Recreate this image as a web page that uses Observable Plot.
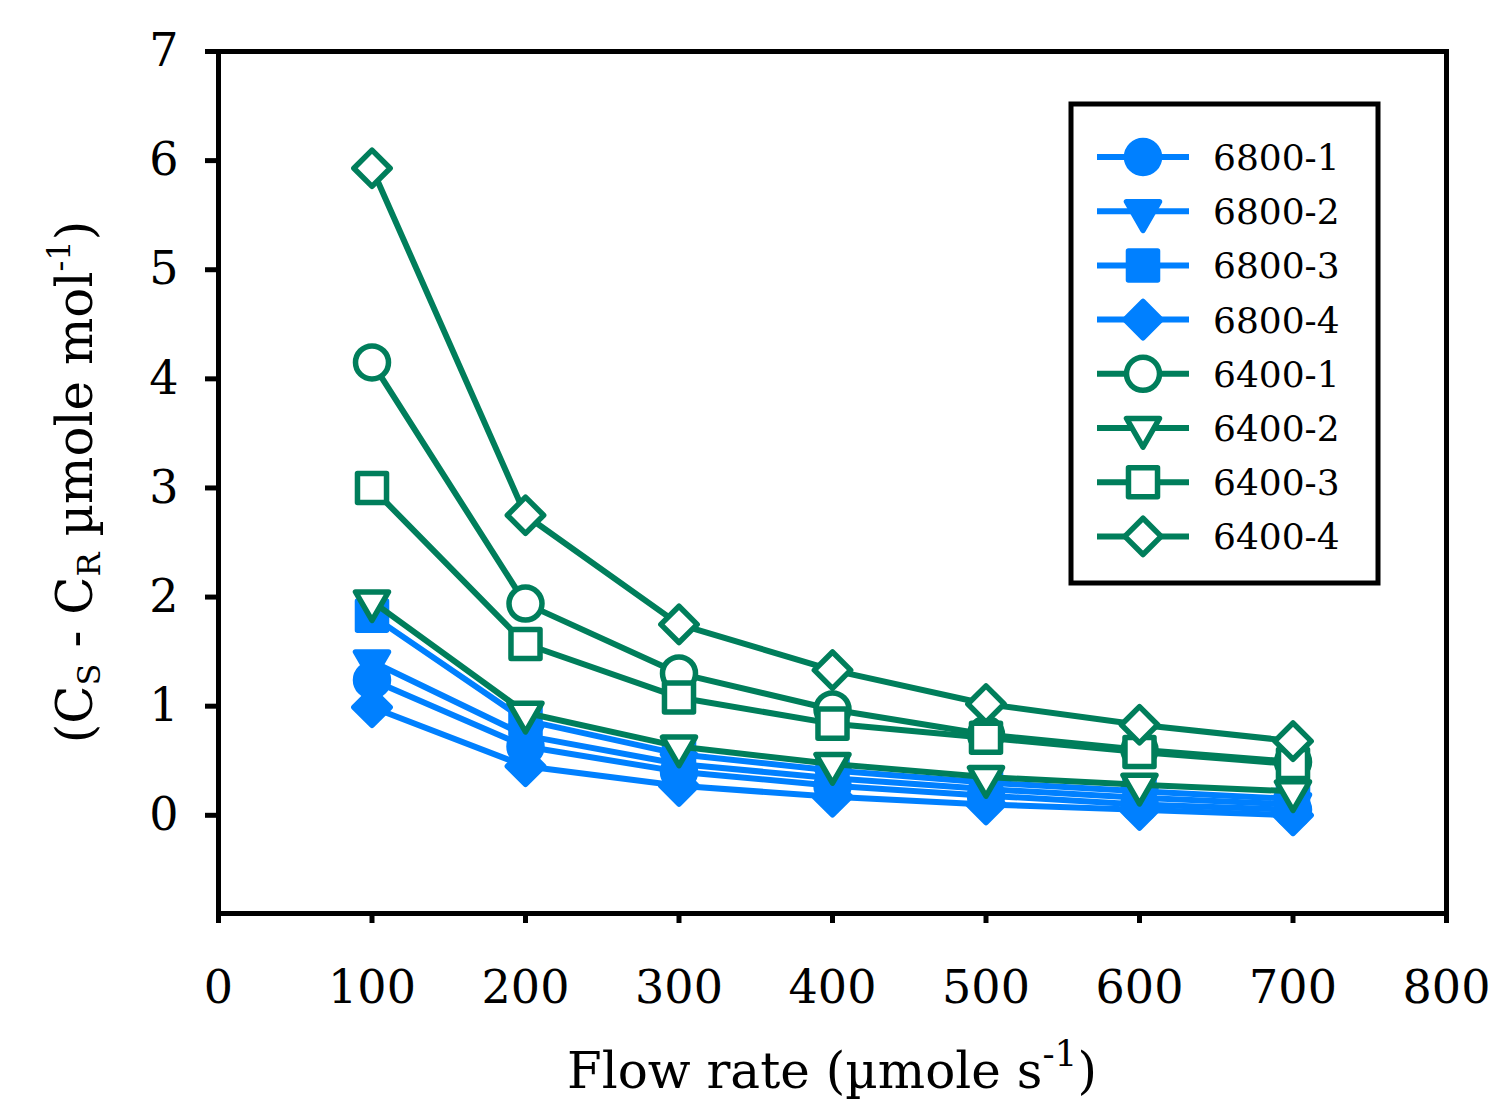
<!DOCTYPE html>
<html>
<head>
<meta charset="utf-8">
<script src="https://cdn.jsdelivr.net/npm/d3@7"></script>
<script src="https://cdn.jsdelivr.net/npm/@observablehq/plot@0.6"></script>
<style>
  html, body { margin: 0; padding: 0; background: #fff; }
  #chart { width: 1494px; height: 1102px; }
</style>
</head>
<body>
<div id="chart"></div>
<script>
// Flow rates (µmole s-1) at which the CO2 difference was measured
const flowRates = [100, 200, 300, 400, 500, 600, 700];

// Cs - Cr (µmole mol-1), one array per analyser unit
const s6800_1 = [1.24, 0.63, 0.40, 0.27, 0.18, 0.10, 0.05];
const s6800_2 = [1.41, 0.73, 0.47, 0.34, 0.24, 0.16, 0.10];
const s6800_3 = [1.83, 0.87, 0.56, 0.41, 0.30, 0.22, 0.15];
const s6800_4 = [0.99, 0.45, 0.27, 0.17, 0.10, 0.05, 0.00];
const s6400_1 = [4.15, 1.94, 1.30, 0.97, 0.74, 0.60, 0.49];
const s6400_2 = [1.96, 0.94, 0.63, 0.47, 0.35, 0.28, 0.22];
const s6400_3 = [3.00, 1.57, 1.08, 0.84, 0.71, 0.58, 0.47];
const s6400_4 = [5.93, 2.75, 1.75, 1.33, 1.02, 0.83, 0.68];

const seriesNames = ["6800-1", "6800-2", "6800-3", "6800-4", "6400-1", "6400-2", "6400-3", "6400-4"];
const seriesValues = [s6800_1, s6800_2, s6800_3, s6800_4, s6400_1, s6400_2, s6400_3, s6400_4];

const xTicks = [0, 100, 200, 300, 400, 500, 600, 700, 800];
const yTicks = [0, 1, 2, 3, 4, 5, 6, 7];

// ---- styling ----
const BLUE = "#0080ff";
const GREEN = "#007e5b";
const FONT = "'DejaVu Serif', 'Liberation Serif', serif";

// marker shapes, sized from the dot radius
const symCircle = {draw(ctx, size) { const r = Math.sqrt(size / Math.PI); ctx.moveTo(r, 0); ctx.arc(0, 0, r, 0, 2 * Math.PI); ctx.closePath(); }};
const symSquare = {draw(ctx, size) { const h = Math.sqrt(size / Math.PI) * 0.88; ctx.moveTo(-h, -h); ctx.lineTo(h, -h); ctx.lineTo(h, h); ctx.lineTo(-h, h); ctx.closePath(); }};
const symDiamond = {draw(ctx, size) { const h = Math.sqrt(size / Math.PI) * 1.1; ctx.moveTo(0, -h); ctx.lineTo(h, 0); ctx.lineTo(0, h); ctx.lineTo(-h, 0); ctx.closePath(); }};
const symTriDown = {draw(ctx, size) { const w = Math.sqrt(size / Math.PI); const k = w / Math.sqrt(3); ctx.moveTo(-w, -k); ctx.lineTo(w, -k); ctx.lineTo(0, 2 * k); ctx.closePath(); }};

const shapes = [symCircle, symTriDown, symSquare, symDiamond];
const styles = seriesNames.map((name, i) => ({
  name,
  color: i < 4 ? BLUE : GREEN,
  filled: i < 4,
  symbol: shapes[i % 4]
}));

const rows = seriesNames.map((name, i) =>
  flowRates.map((x, j) => ({series: name, x, y: seriesValues[i][j]}))
);

const R = 16.5;
const LINE_W = 6;
const MARK_W = 5.5;
const marks = [];
rows.forEach((data, i) => {
  const st = styles[i];
  marks.push(Plot.line(data, {x: "x", y: "y", stroke: st.color, strokeWidth: LINE_W, strokeLinejoin: "round"}));
  marks.push(Plot.dot(data, {x: "x", y: "y", r: R, symbol: st.symbol, stroke: st.color,
    fill: st.filled ? st.color : "white", strokeWidth: MARK_W, strokeLinejoin: "round"}));
});

const W = 1494, H = 1102;
const mL = 218, mR = 48, mT = 51, mB = 189;

const plot = Plot.plot({
  width: W,
  height: H,
  marginLeft: mL,
  marginRight: mR,
  marginTop: mT,
  marginBottom: mB,
  style: {fontFamily: FONT, background: "white", overflow: "visible"},
  x: {domain: [0, 800]},
  y: {domain: [-0.9, 7]},
  marks: [
    Plot.axisX({ticks: xTicks, tickSize: 10, tickPadding: 47, fontSize: 46, strokeWidth: 5, stroke: "black", fill: "black", label: null, tickFormat: d => String(d)}),
    Plot.axisY({ticks: yTicks, tickSize: 13, tickPadding: 27, fontSize: 46, strokeWidth: 5, stroke: "black", fill: "black", label: null, tickFormat: d => String(d)}),
    ...marks,
    Plot.frame({stroke: "black", strokeWidth: 5})
  ]
});

document.getElementById("chart").appendChild(plot);

const svg = d3.select(plot);
const cx = (mL + (W - mR)) / 2;
const cy = (mT + (H - mB)) / 2;

// x axis title with superscript
const xt = svg.append("text")
  .attr("x", cx).attr("y", 1088)
  .attr("text-anchor", "middle")
  .attr("font-family", FONT).attr("font-size", 50).attr("fill", "black");
xt.append("tspan").text("Flow rate (\u00b5mole s");
xt.append("tspan").attr("dy", -22).attr("font-size", 36).text("-1");
xt.append("tspan").attr("dy", 22).text(")");

// y axis title with subscripts and superscript
const yt = svg.append("text")
  .attr("transform", `translate(92,${cy}) rotate(-90)`)
  .attr("text-anchor", "middle")
  .attr("font-family", FONT).attr("font-size", 50).attr("fill", "black");
yt.append("tspan").text("(C");
yt.append("tspan").attr("dy", 8).attr("font-size", 32).text("S");
yt.append("tspan").attr("dy", -8).text(" - C");
yt.append("tspan").attr("dy", 8).attr("font-size", 32).text("R");
yt.append("tspan").attr("dy", -8).text(" \u00b5mole mol");
yt.append("tspan").attr("dy", -22).attr("font-size", 32).text("-1");
yt.append("tspan").attr("dy", 22).text(")");

// legend box
const lg = svg.append("g");
lg.append("rect")
  .attr("x", 1071).attr("y", 104).attr("width", 307).attr("height", 479)
  .attr("fill", "white").attr("stroke", "black").attr("stroke-width", 5);
styles.forEach((st, i) => {
  const y = 157 + i * 54.2;
  lg.append("line").attr("x1", 1097).attr("x2", 1189).attr("y1", y).attr("y2", y)
    .attr("stroke", st.color).attr("stroke-width", LINE_W);
  const p = d3.path();
  st.symbol.draw(p, Math.PI * R * R);
  lg.append("path").attr("d", p.toString()).attr("transform", `translate(1143,${y})`)
    .attr("fill", st.filled ? st.color : "white").attr("stroke", st.color)
    .attr("stroke-width", MARK_W).attr("stroke-linejoin", "round");
  lg.append("text").attr("x", 1213).attr("y", y + 13)
    .attr("text-anchor", "start")
    .attr("font-family", FONT).attr("font-size", 36).attr("fill", "black")
    .text(st.name);
});
</script>
</body>
</html>
